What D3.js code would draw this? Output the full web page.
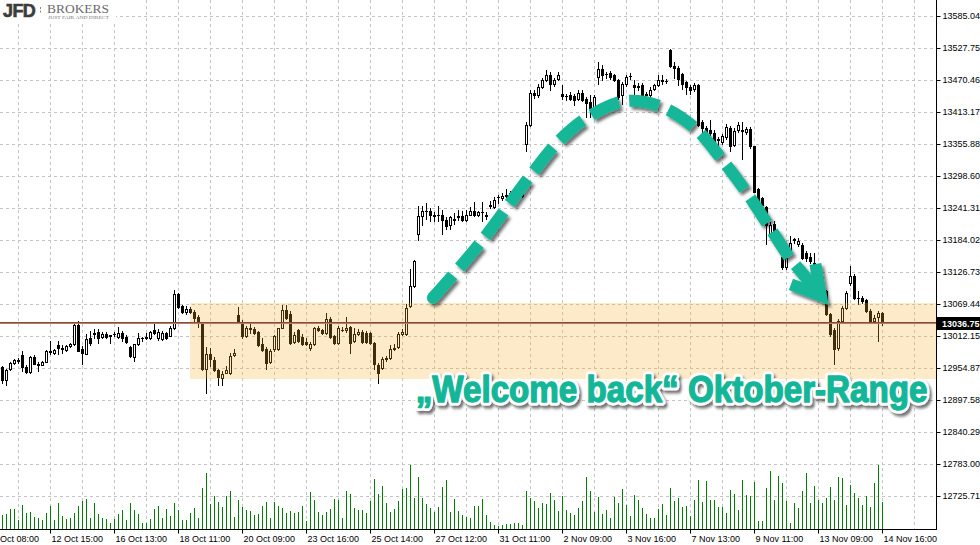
<!DOCTYPE html>
<html><head><meta charset="utf-8">
<script src="https://cdn.jsdelivr.net/npm/d3@7"></script>
<style>
html,body{margin:0;padding:0;background:#fff;}
svg{display:block;}
</style></head>
<body><svg id="chart" width="980" height="545"></svg>
<script>
// ---------- DATA ----------
const open = [
12958,12934,12954,12965,12968,12979,12958,12949,12975,12963,
12961,12966,12984,12982,12997,12991,12988,12995,12999,13032,
12990,12981,13009,13016,13020,13011,13016,13013,13016,13011,
13018,13011,12993,12975,12999,13009,13009,13009,13023,13009,
13007,13018,13013,13027,13088,13066,13056,13061,13056,13047,
13036,12954,12981,12970,12952,12938,12947,12947,12979,13050,
13038,13013,13025,13025,13020,12999,12990,12966,12990,12990,
13027,13059,13052,13002,13023,13011,13002,12991,12999,13027,
13023,13018,13043,13013,13000,13023,13023,13029,13004,13016,
13020,13018,13018,13000,12961,12956,12972,12974,12990,12993,
13016,13016,13066,13102,13195,13227,13236,13236,13229,13229,
13229,13220,13211,13221,13225,13227,13220,13230,13237,13229,
13234,13230,13246,13243,13261,13259,13264,13268,13266,13262,
13264,13357,13391,13448,13444,13459,13471,13480,13464,13473,
13446,13443,13444,13443,13437,13448,13437,13432,13421,13476,
13491,13482,13484,13480,13471,13444,13464,13478,13462,13459,
13462,13446,13444,13455,13462,13471,13469,13525,13496,13492,
13482,13467,13459,13455,13462,13396,13385,13382,13377,13364,
13360,13369,13385,13355,13382,13380,13378,13384,13352,13275,
13259,13243,13195,13214,13195,13154,13136,13164,13184,13177,
13175,13161,13154,13143,13132,13118,13093,13052,13023,12991,
13040,13063,13107,13120,13081,13081,13077,13057,13040,13047,
13054];
const high = [
12959,12954,12966,12972,12974,12986,12961,12977,12979,12966,
12968,12988,13004,12990,13004,12997,12997,13000,13034,13040,
12995,13016,13022,13025,13025,13020,13020,13015,13020,13029,
13022,13015,12995,12999,13018,13011,13018,13022,13034,13025,
13022,13020,13031,13095,13089,13068,13066,13065,13059,13050,
13038,12993,12991,12975,12954,12950,12959,12982,12990,13065,
13041,13031,13036,13029,13022,13009,12993,12990,13015,13027,
13068,13068,13057,13020,13025,13016,13009,13002,13029,13031,
13025,13054,13047,13015,13031,13029,13047,13031,13027,13025,
13023,13022,13020,13002,12965,12975,12977,12997,12999,13020,
13025,13070,13132,13148,13245,13245,13250,13241,13234,13245,
13239,13225,13227,13232,13239,13236,13239,13243,13252,13237,
13252,13234,13254,13261,13266,13268,13275,13273,13271,13268,
13278,13396,13453,13453,13464,13475,13489,13485,13475,13485,
13462,13446,13450,13446,13453,13453,13441,13444,13444,13503,
13498,13485,13487,13482,13473,13467,13480,13484,13471,13466,
13466,13450,13459,13464,13480,13480,13473,13526,13503,13496,
13484,13469,13462,13466,13464,13400,13389,13400,13382,13369,
13375,13393,13389,13385,13396,13396,13387,13387,13353,13277,
13262,13246,13216,13218,13200,13157,13155,13191,13189,13189,
13179,13164,13161,13161,13136,13120,13095,13054,13027,13043,
13066,13093,13138,13123,13093,13084,13079,13061,13050,13057,
13056];
const low = [
12929,12925,12952,12963,12965,12950,12947,12947,12963,12950,
12961,12966,12981,12981,12981,12982,12986,12993,12997,12986,
12963,12981,12997,13009,13000,13009,13009,13000,13013,13009,
13004,13000,12975,12968,12997,13004,13007,13007,13016,13006,
13006,13007,13013,13025,13063,13054,13052,13054,13040,13029,
12952,12911,12959,12950,12925,12925,12947,12945,12977,13036,
13009,13011,13018,13016,12995,12986,12954,12965,12986,12988,
13027,13043,12999,13000,13002,12997,12997,12988,12997,13022,
13016,13016,13009,12999,12999,13022,13020,12982,13002,13015,
13000,13000,12999,12954,12929,12954,12968,12972,12988,12991,
13015,13015,13065,13100,13184,13211,13223,13218,13218,13218,
13195,13204,13204,13214,13221,13218,13218,13229,13227,13227,
13218,13223,13241,13241,13250,13257,13262,13262,13259,13261,
13261,13343,13389,13439,13441,13457,13469,13453,13460,13471,
13437,13435,13435,13426,13435,13434,13405,13405,13419,13464,
13471,13475,13473,13469,13437,13428,13460,13473,13444,13453,
13441,13441,13441,13453,13460,13464,13466,13494,13475,13462,
13455,13446,13446,13451,13389,13373,13375,13366,13357,13348,
13357,13366,13343,13352,13378,13330,13375,13350,13270,13250,
13236,13177,13189,13182,13166,13132,13132,13163,13179,13173,
13150,13147,13143,13129,13116,13089,13050,13013,12963,12988,
13036,13061,13104,13079,13070,13072,13056,13036,13036,13004,
13032];
const close = [
12934,12952,12965,12970,12969,12958,12949,12975,12963,12961,
12966,12986,12985,12988,12991,12990,12995,12999,13032,12986,
12982,13007,13000,13018,13009,13016,13011,13014,13017,13018,
13009,13002,12977,12999,13009,13010,13011,13020,13018,13020,
13018,13009,13027,13088,13065,13056,13061,13056,13045,13036,
12954,12981,12972,12952,12940,12945,12952,12977,12982,13038,
13013,13027,13027,13018,12997,12988,12965,12986,13013,13027,
13059,13045,13000,13015,13004,12999,12999,12999,13027,13023,
13018,13043,13011,13000,13027,13024,13027,13000,13016,13020,
13002,13002,13000,12963,12947,12972,12974,12990,12991,13016,
13020,13063,13102,13147,13227,13236,13237,13229,13228,13230,
13221,13209,13225,13223,13227,13220,13230,13237,13229,13234,
13235,13227,13247,13257,13262,13264,13266,13269,13261,13264,
13271,13391,13448,13444,13459,13471,13480,13464,13471,13480,
13443,13442,13437,13435,13448,13435,13430,13421,13441,13491,
13480,13481,13476,13471,13441,13464,13476,13479,13459,13461,
13444,13444,13453,13462,13471,13469,13470,13496,13492,13473,
13464,13459,13453,13462,13391,13385,13378,13377,13360,13366,
13371,13387,13353,13380,13391,13381,13384,13352,13271,13254,
13248,13212,13212,13186,13170,13136,13152,13179,13186,13182,
13152,13152,13147,13132,13120,13093,13052,13016,12990,13040,
13063,13089,13120,13081,13080,13075,13057,13040,13045,13054,
13036.75];
const volume = [
14,15,20,20,9,24,16,17,12,11,
9,16,23,9,26,13,10,11,16,23,
28,30,11,26,15,11,10,6,10,15,
19,9,26,19,15,6,6,10,20,23,
11,20,13,26,19,9,9,16,21,11,
41,56,25,33,27,22,33,38,12,29,
22,19,18,14,15,23,27,11,27,23,
21,16,18,16,17,23,8,37,29,17,
14,17,20,30,29,11,38,35,21,19,
19,16,28,50,35,43,26,17,20,28,
40,41,64,31,52,31,25,21,17,22,
42,49,17,30,18,14,12,11,23,23,
30,14,7,4,3,4,5,5,6,6,
4,38,31,28,21,26,25,36,29,18,
33,19,16,14,21,28,52,38,17,32,
15,19,11,32,26,40,24,13,34,29,
21,15,11,11,20,25,14,41,28,31,
22,23,13,29,49,27,48,29,29,22,
22,16,39,35,19,49,34,33,47,8,
8,41,58,29,53,46,28,6,26,21,
38,56,26,43,29,26,31,42,29,52,
51,24,44,36,31,24,33,22,46,64,
27];
const yTickLabels = ["13585.04","13527.75","13470.46","13413.17","13355.88","13298.60","13241.31","13184.02","13126.73","13069.44","13012.15","12954.87","12897.58","12840.29","12783.00","12725.71"];
const xTickIndex  = [-4,12,28,44,60,76,92,108,124,140,156,172,188,204,220];
const xTickLabels = ["10 Oct 08:00","12 Oct 15:00","16 Oct 13:00","18 Oct 11:00","20 Oct 09:00","23 Oct 16:00","25 Oct 14:00","27 Oct 12:00","31 Oct 11:00","2 Nov 09:00","3 Nov 16:00","7 Nov 13:00","9 Nov 11:00","13 Nov 09:00","14 Nov 16:00"];
const lastPrice = 13036.75;
const rangeHigh = 13072, rangeLow = 12936, rangeStartIndex = 46.9;
const arrowIndex = [107.6,119.4,131.9,139.4,146.9,155.6,164.4,173.1,179.4,185.6,191.9,196.6];
const arrowPrice = [13081,13179,13299,13364,13407,13433,13424,13385,13333,13274,13206,13154];
const arrowTip = {index:204.6, price:13085};
const noteText = "\u201EWelcome back\u201C Oktober-Range";
const noteAnchor = {index:103.3, price:12895};

// ---------- LAYOUT ----------
const plotR = 936, plotB = 529;
const N = close.length;
const teal = "#14b698";
const svg = d3.select("#chart");
const xSc = d3.scaleLinear().domain([0, N-1]).range([2.5, 2.5 + 4*(N-1)]);
const ySc = d3.scaleLinear().domain([12725.71, 13585.04]).range([496.3, 16.3]);
const yR = ySc.copy().interpolate(d3.interpolateRound);
const vSc = d3.scaleLinear().domain([0, 64]).range([plotB, plotB - 64]).interpolate(d3.interpolateRound);

const defs = svg.append("defs");
const f = defs.append("filter").attr("id","shadow").attr("x","-10%").attr("y","-10%").attr("width","130%").attr("height","140%");
f.append("feDropShadow").attr("dx",2.5).attr("dy",3).attr("stdDeviation",1.4).attr("flood-color","#000").attr("flood-opacity",0.55);

svg.append("rect").attr("width",980).attr("height",545).attr("fill","#fff");

// grid
const grid = svg.append("g").attr("stroke","#c4c4c4").attr("stroke-dasharray","3,3").attr("stroke-width",1);
grid.selectAll("line.h").data(yTickLabels.map(Number)).join("line").attr("class","h")
  .attr("x1",0).attr("x2",plotR).attr("y1",d=>yR(d)+0.5).attr("y2",d=>yR(d)+0.5);
grid.selectAll("line.v").data(d3.range(4, 229, 8)).join("line").attr("class","v")
  .attr("x1",d=>xSc(d)).attr("x2",d=>xSc(d)).attr("y1",0).attr("y2",plotB);

// logo
const logo = svg.append("g");
logo.append("rect").attr("x",0).attr("y",0).attr("width",116).attr("height",22).attr("fill","#fff");
logo.append("text").attr("x",3).attr("y",17).attr("font-family","Liberation Sans, Arial, sans-serif").attr("font-weight","bold")
  .attr("font-size",18).attr("fill","#3c3c3c").attr("stroke","#3c3c3c").attr("stroke-width",0.6).attr("letter-spacing",-0.6).text("JFD");
logo.append("line").attr("x1",40.5).attr("x2",40.5).attr("y1",7).attr("y2",14).attr("stroke","#888").attr("stroke-dasharray","2,1.5");
logo.append("text").attr("x",47).attr("y",12.5).attr("font-family","Liberation Serif, Times New Roman, serif")
  .attr("font-size",13).attr("fill","#6a6a6a").attr("textLength",62).attr("lengthAdjust","spacingAndGlyphs").text("BROKERS");
logo.append("text").attr("x",48).attr("y",18.5).attr("font-family","Liberation Serif, serif")
  .attr("font-size",4.5).attr("fill","#777").attr("textLength",61).attr("lengthAdjust","spacingAndGlyphs").text("JUST FAIR AND DIRECT");

// volume
svg.append("g").selectAll("rect").data(volume).join("rect")
  .attr("x",(d,i)=>xSc(i)-0.5).attr("width",1)
  .attr("y",d=>vSc(d)).attr("height",d=>plotB - vSc(d)).attr("fill","#008000");

// candles
const candles = d3.range(N).map(i=>({i,o:open[i],h:high[i],l:low[i],c:close[i]}));
const cg = svg.append("g");
candles.forEach(d=>{
  const cx = xSc(d.i);
  const yh = yR(d.h), yl = yR(d.l), yo = yR(d.o), yc = yR(d.c);
  cg.append("rect").attr("x",cx-0.5).attr("width",1).attr("y",yh).attr("height",yl-yh+1).attr("fill","#000");
  const top = Math.min(yo,yc), bot = Math.max(yo,yc);
  if (bot - top < 1) {
    cg.append("rect").attr("x",cx-1.5).attr("width",3).attr("y",top).attr("height",1).attr("fill","#000");
  } else if (d.c >= d.o) {
    cg.append("rect").attr("x",cx-1).attr("width",2).attr("y",top+0.5).attr("height",bot-top)
      .attr("fill","#fff").attr("stroke","#000").attr("stroke-width",1);
  } else {
    cg.append("rect").attr("x",cx-1.5).attr("width",3).attr("y",top).attr("height",bot-top+1).attr("fill","#000");
  }
});

// range overlay
svg.append("rect").attr("x",xSc(rangeStartIndex)).attr("width",plotR - xSc(rangeStartIndex))
  .attr("y",yR(rangeHigh)).attr("height",yR(rangeLow)-yR(rangeHigh))
  .attr("fill","rgb(244,172,44)").attr("fill-opacity",0.26);

// price lines
svg.append("line").attr("x1",0).attr("x2",plotR).attr("y1",yR(lastPrice)-0.5).attr("y2",yR(lastPrice)-0.5)
  .attr("stroke","#b43a1c").attr("stroke-width",1);
svg.append("line").attr("x1",0).attr("x2",plotR).attr("y1",yR(lastPrice)+0.5).attr("y2",yR(lastPrice)+0.5)
  .attr("stroke","#8c8c8c").attr("stroke-width",1);

// arrow
const ag = svg.append("g").attr("filter","url(#shadow)");
const pts = arrowIndex.map((d,i)=>[xSc(d), ySc(arrowPrice[i])]);
const lineGen = d3.line().curve(d3.curveCatmullRom.alpha(0.5));
const ap = ag.append("path").attr("d",lineGen(pts)).attr("fill","none").attr("stroke",teal)
  .attr("stroke-width",12);
const L = ap.node().getTotalLength();
const gap = 10.5;
const nDash = Math.round((L + gap) / 41);
const period = (L + gap) / nDash;
ap.attr("stroke-dasharray", (period-gap) + " " + gap);
ag.append("circle").attr("cx",pts[0][0]).attr("cy",pts[0][1]).attr("r",6).attr("fill",teal);
const P = pts[pts.length-1];
const T = [xSc(arrowTip.index), ySc(arrowTip.price)];
const dx = T[0]-P[0], dy = T[1]-P[1], dl = Math.hypot(dx,dy);
const ux = dx/dl, uy = dy/dl;
const S = [P[0]+ux*gap, P[1]+uy*gap];
const back = Math.atan2(-uy,-ux);
const armLen = 32, spread = 0.52;
const A1 = [T[0]+armLen*Math.cos(back-spread), T[1]+armLen*Math.sin(back-spread)];
const A2 = [T[0]+armLen*Math.cos(back+spread), T[1]+armLen*Math.sin(back+spread)];
ag.append("path").attr("d",`M${S[0]},${S[1]}L${T[0]-ux*4},${T[1]-uy*4}`).attr("stroke",teal).attr("stroke-width",12).attr("fill","none");
ag.append("path").attr("d",`M${A1[0]},${A1[1]}L${T[0]},${T[1]}L${A2[0]},${A2[1]}`).attr("stroke",teal)
  .attr("stroke-width",12).attr("fill","none").attr("stroke-linejoin","miter").attr("stroke-miterlimit",6);

// note text (scaled horizontally to the reference width)
const tx = xSc(noteAnchor.index), ty = ySc(noteAnchor.price);
const noteG = svg.append("g");
const noteAttrs = sel => sel.attr("x",0).attr("y",0)
  .attr("font-family","Liberation Sans, Arial, sans-serif").attr("font-weight","bold").attr("font-size",37)
  .text(noteText);
const tBack = noteG.append("text").call(noteAttrs).attr("fill","#fff").attr("stroke","#fff").attr("stroke-width",7)
  .attr("stroke-linejoin","round").attr("filter","url(#shadow)");
const tFront = noteG.append("text").call(noteAttrs).attr("fill",teal).attr("stroke",teal).attr("stroke-width",1.4)
  .attr("stroke-linejoin","round");
const natural = tFront.node().getComputedTextLength();
const sx = 512 / natural;
noteG.attr("transform",`translate(${tx},${ty}) scale(${sx},1)`);

// axes
const axFont = "Liberation Sans, Arial, sans-serif";
const yAxis = d3.axisRight(yR).tickValues(yTickLabels.map(Number)).tickSize(4).tickPadding(2)
  .tickFormat((d,i)=>yTickLabels[i]);
const gy = svg.append("g").attr("transform",`translate(${plotR+0.5},0)`).call(yAxis);
gy.select(".domain").remove();
gy.selectAll("text").attr("font-family",axFont).attr("font-size",9).attr("fill","#000").attr("dy","0.28em");
gy.selectAll("line").attr("stroke","#000");

const xAxis = d3.axisBottom(xSc).tickValues(xTickIndex).tickSize(4).offset(0)
  .tickFormat((d,i)=>xTickLabels[i]);
const gx = svg.append("g").attr("transform",`translate(0,${plotB+0.5})`).call(xAxis);
gx.select(".domain").remove();
gx.selectAll("text").attr("font-family",axFont).attr("font-size",9).attr("fill","#000")
  .attr("text-anchor","start").attr("x",1).attr("y",12).attr("dy",0);
gx.selectAll("line").attr("stroke","#000");

svg.append("line").attr("x1",plotR+0.5).attr("x2",plotR+0.5).attr("y1",0).attr("y2",plotB+1).attr("stroke","#000");
svg.append("line").attr("x1",0).attr("x2",plotR+1).attr("y1",plotB+0.5).attr("y2",plotB+0.5).attr("stroke","#000");

// last price box
const py = yR(lastPrice);
svg.append("rect").attr("x",plotR+1).attr("y",py-6).attr("width",980-plotR-1).attr("height",13).attr("fill","#000");
svg.append("text").attr("x",plotR+6).attr("y",py+4).attr("font-family",axFont).attr("font-weight","bold")
  .attr("font-size",9).attr("fill","#fff").text(lastPrice.toFixed(2));
</script>
</body></html>
